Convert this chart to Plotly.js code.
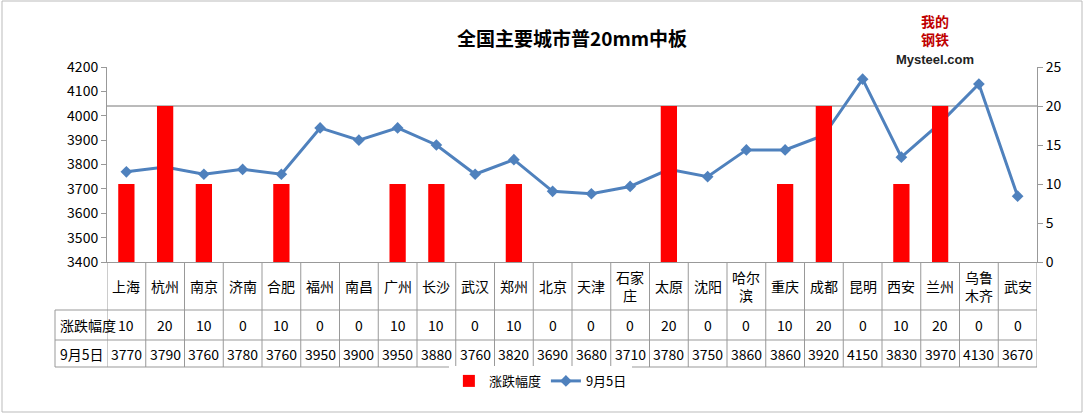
<!DOCTYPE html>
<html>
<head>
<meta charset="utf-8">
<script src="https://cdn.plot.ly/plotly-3.0.1.min.js"></script>
<style>body{margin:0;background:#fff}#chart{width:1084px;height:414px}</style>
</head>
<body>
<div id="chart"></div>
<script>
const cities = ["上海","杭州","南京","济南","合肥","福州","南昌","广州","长沙","武汉","郑州","北京","天津","石家<br>庄","太原","沈阳","哈尔<br>滨","重庆","成都","昆明","西安","兰州","乌鲁<br>木齐","武安"];
const changes = [10,20,10,0,10,0,0,10,10,0,10,0,0,0,20,0,0,10,20,0,10,20,0,0];
const prices = [3770,3790,3760,3780,3760,3950,3900,3950,3880,3760,3820,3690,3680,3710,3780,3750,3860,3860,3920,4150,3830,3970,4130,3670];
const changeName = "涨跌幅度";
const priceName = "9月5日";

const font = "Noto Sans CJK SC, sans-serif";
const n = cities.length;
const ph = 195, pw = 930;
const yCity = 0, yRow1 = -48 / ph, yRow2 = -78 / ph, yEnd = -105 / ph;
const xLeft = -52 / pw;

let shapes = [];
let annotations = [];
const line = {color: "#999", width: 1};

// table grid
for (let i = 0; i <= n; i++) {
	shapes.push({type: "line", xref: "x", yref: "paper", x0: i - 0.5, x1: i - 0.5, y0: yCity, y1: yEnd, line: line});
}
[yRow1, yRow2, yEnd].forEach(y => {
	shapes.push({type: "line", xref: "paper", yref: "paper", x0: xLeft, x1: 1, y0: y, y1: y, line: line});
});
shapes.push({type: "line", xref: "paper", yref: "paper", x0: xLeft, x1: xLeft, y0: yRow1, y1: yEnd, line: line});
// top gridline at right-axis 20
shapes.push({type: "line", xref: "paper", yref: "y2", x0: 0, x1: 1, y0: 20, y1: 20, line: {color: "#777", width: 1}, layer: "below"});
// outer frame
shapes.push({type: "rect", xref: "paper", yref: "paper", x0: -105 / pw, x1: 1 + 45 / pw, y0: -150 / ph, y1: 1 + 66 / ph, line: {color: "#bbb", width: 1}});

function cell(x, y, text, xref) {
	return {x: x, y: y, xref: xref || "x", yref: "paper", xanchor: xref ? "left" : "center", yanchor: "middle",
		text: text, showarrow: false, font: {size: 14, family: font, color: "#000"}};
}
cities.forEach((c, i) => {
	annotations.push(cell(i, -24 / ph, c));
	annotations.push(cell(i, (yRow1 + yRow2) / 2, String(changes[i])));
	annotations.push(cell(i, (yRow2 + yEnd) / 2, String(prices[i])));
});
annotations.push(cell(xLeft + 0.003, (yRow1 + yRow2) / 2, changeName, "paper"));
annotations.push(cell(xLeft + 0.003, (yRow2 + yEnd) / 2, priceName, "paper"));
// logo
annotations.push({x: 0.89, y: 1 + 37 / ph, xref: "paper", yref: "paper", xanchor: "center", yanchor: "middle", text: "<b>我的<br>钢铁</b>", showarrow: false, font: {size: 14, family: font, color: "#c00000"}});
annotations.push({x: 0.89, y: 1 + 7 / ph, xref: "paper", yref: "paper", xanchor: "center", yanchor: "middle", text: "<b>Mysteel.com</b>", showarrow: false, font: {size: 13, family: "Liberation Sans", color: "#222"}});

const data = [{
	x: cities.map((c, i) => i),
	y: changes,
	name: changeName,
	type: "bar",
	yaxis: "y2",
	width: 0.42,
	marker: {color: "#ff0000"}
}, {
	x: cities.map((c, i) => i),
	y: prices,
	name: priceName,
	type: "scatter",
	mode: "lines+markers",
	line: {color: "#4f81bd", width: 3},
	marker: {symbol: "diamond", size: 9, color: "#4f81bd"}
}];

const layout = {
	width: 1084,
	height: 414,
	margin: {l: 107, r: 47, t: 67, b: 152},
	paper_bgcolor: "#fff",
	plot_bgcolor: "#fff",
	font: {family: font, size: 13, color: "#000"},
	title: {text: "<b>全国主要城市普20mm中板</b>", x: 0.5, xref: "paper", y: 0.92, font: {size: 19, family: "Noto Sans CJK SC", color: "#000"}},
	showlegend: true,
	legend: {orientation: "h", x: 0.466, xanchor: "center", y: -0.61, yanchor: "middle", font: {size: 13}},
	xaxis: {range: [-0.5, n - 0.5], showticklabels: false, ticks: "", showgrid: false, zeroline: false, showline: true, linecolor: "#999", mirror: false},
	yaxis: {range: [3400, 4200], dtick: 100, showgrid: false, zeroline: false, showline: true, linecolor: "#999", ticks: "outside", ticklen: 5, tickcolor: "#999", tickfont: {size: 14}},
	yaxis2: {range: [0, 25], dtick: 5, overlaying: "y", side: "right", showgrid: false, zeroline: false, showline: true, linecolor: "#999", ticks: "outside", ticklen: 5, tickcolor: "#999", tickfont: {size: 14}},
	shapes: shapes,
	annotations: annotations
};

Plotly.newPlot("chart", data, layout, {displayModeBar: false});
</script>
</body>
</html>
